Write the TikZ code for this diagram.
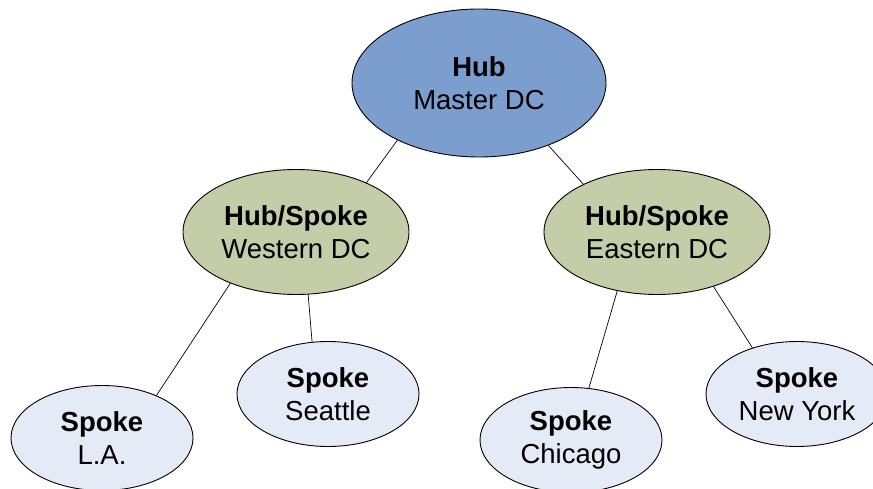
\documentclass[tikz,border=0pt]{standalone}
\usepackage{fontspec}
\setmainfont{Liberation Sans}
\usetikzlibrary{shapes.geometric}
\definecolor{hubfill}{RGB}{124,158,207}
\definecolor{midfill}{RGB}{196,205,168}
\definecolor{spokefill}{RGB}{228,235,247}
\tikzset{
  blob/.style={ellipse, draw=black, line width=0.9pt, inner sep=0pt, align=center,
    font=\fontsize{27.5}{33}\selectfont},
  hubnode/.style={blob, fill=hubfill, minimum width=254pt, minimum height=148pt},
  midnode/.style={blob, fill=midfill, minimum width=226pt, minimum height=125pt},
  spokenode/.style={blob, fill=spokefill, minimum width=182pt, minimum height=105pt},
  link/.style={draw=black, line width=0.7pt}
}
\begin{document}
\begin{tikzpicture}[x=1pt,y=-1pt]
\useasboundingbox (0,0) rectangle (873,489);
\clip (0,0) rectangle (873,489);
\fill[white] (0,0) rectangle (873,489);
\node[hubnode] (hub) at (479,83) {\textbf{Hub}\\Master DC};
\node[midnode] (west) at (296,232) {\textbf{Hub/Spoke}\\Western DC};
\node[midnode] (east) at (657,232) {\textbf{Hub/Spoke}\\Eastern DC};
\node[spokenode] (la) at (102,438) {\textbf{Spoke}\\L.A.};
\node[spokenode] (sea) at (328,394) {\textbf{Spoke}\\Seattle};
\node[spokenode] (chi) at (571,440) {\textbf{Spoke}\\Chicago};
\node[spokenode] (ny) at (797,394) {\textbf{Spoke}\\New York};
\draw[link] (hub.215) -- (west.35);
\draw[link] (hub.318) -- (east.147);
\draw[link] (west.218) -- (la.38);
\draw[link] (west.281) -- (sea.107);
\draw[link] (east.236) -- (chi.71);
\draw[link] (east.316) -- (ny.134);
\end{tikzpicture}
\end{document}
